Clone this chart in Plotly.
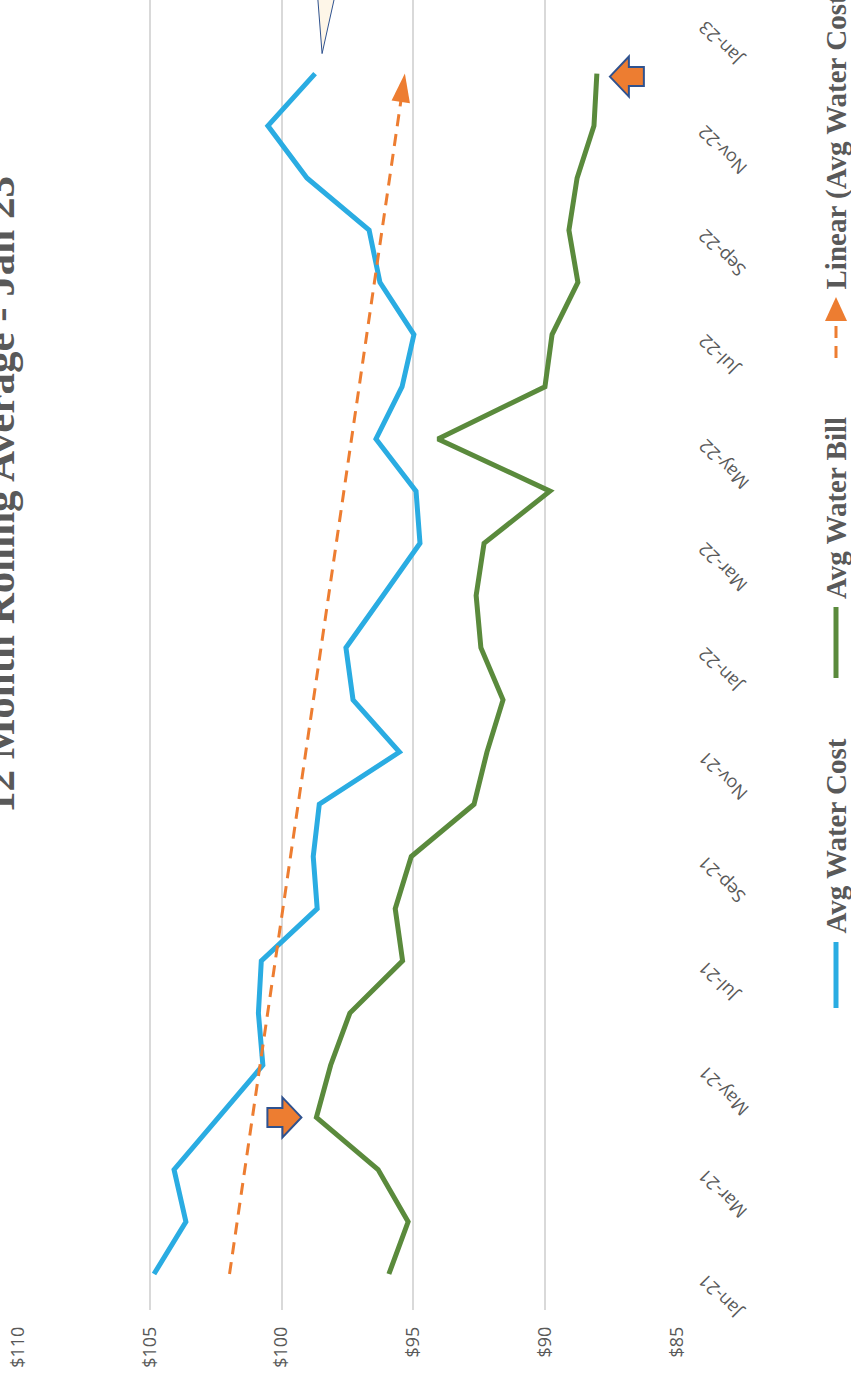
import numpy as np
import plotly.graph_objects as go

MONTHS = [
    "Jan-21", "Feb-21", "Mar-21", "Apr-21", "May-21", "Jun-21", "Jul-21", "Aug-21",
    "Sep-21", "Oct-21", "Nov-21", "Dec-21", "Jan-22", "Feb-22", "Mar-22", "Apr-22",
    "May-22", "Jun-22", "Jul-22", "Aug-22", "Sep-22", "Oct-22", "Nov-22", "Dec-22",
    "Jan-23",
]
AVG_WATER_COST = [
    104.84, 103.63, 104.08, 102.40, 100.71, 100.88, 100.77, 98.65,
    98.80, 98.57, 95.53, 97.29, 97.56, 96.15, 94.75, 94.90,
    96.42, 95.43, 94.98, 96.27, 96.68, 99.04, 100.52, 98.73,
]
AVG_WATER_BILL = [
    95.93, 95.20, 96.34, 98.68, 98.14, 97.41, 95.41, 95.69,
    95.08, 92.70, 92.21, 91.60, 92.44, 92.62, 92.32, 89.82,
    94.07, 90.01, 89.74, 88.76, 89.10, 88.79, 88.15, 88.04,
]
PRICE_TICKS = [110, 105, 100, 95, 90, 85]

BLUE = "#2AACE2"
GREEN = "#5A8A3C"
ORANGE = "#ED7D31"
ARROW_EDGE = "#2F528F"
TEXT = "#595959"
GRID = "#D9D9D9"

W, H = 851, 1381
ML, MR, MT, MB = 18, 174, 0, 71
PLOT_W, PLOT_H = W - ML - MR, H - MT - MB


def px(x):
    return (x - ML) / PLOT_W


def py(y):
    return (H - MB - y) / PLOT_H


idx = list(range(len(AVG_WATER_COST)))
slope, intercept = np.polyfit(idx, AVG_WATER_COST, 1)
trend_y = [idx[0], idx[-1]]
trend_x = [intercept + slope * i for i in trend_y]

fig = go.Figure()
fig.add_trace(go.Scatter(
    x=AVG_WATER_COST, y=idx, mode="lines", name="Avg Water Cost",
    line=dict(color=BLUE, width=5),
))
fig.add_trace(go.Scatter(
    x=AVG_WATER_BILL, y=idx, mode="lines", name="Avg Water Bill",
    line=dict(color=GREEN, width=5),
))
fig.add_trace(go.Scatter(
    x=trend_x, y=trend_y, mode="lines+markers", name="Linear (Avg Water Cost)",
    line=dict(color=ORANGE, width=3, dash="12px,8px"),
    marker=dict(symbol="arrow", size=[0, 30], angleref="previous", color=ORANGE,
                opacity=1, line=dict(width=0)),
))


def block_arrow(x_val, y_val, dx, dy, direction):
    # orange block arrow, tip offset (dx, dy) pixels from a data point
    s = direction
    pts = [(0, 0), (-19 * s, 20), (-19 * s, 9.5), (-34 * s, 9.5),
           (-34 * s, -9.5), (-19 * s, -9.5), (-19 * s, -20)]
    path = "M" + " L".join(f"{dx + a},{dy + b}" for a, b in pts) + " Z"
    return dict(
        type="path", xref="x", yref="y", xsizemode="pixel", ysizemode="pixel",
        xanchor=x_val, yanchor=y_val, path=path,
        fillcolor=ORANGE, line=dict(color=ARROW_EDGE, width=2), layer="above",
    )


shapes = [
    block_arrow(AVG_WATER_BILL[3], idx[3], -15, 0, 1),
    block_arrow(AVG_WATER_BILL[-1], idx[-1], 13, -3, -1),
    # callout pointer, cut off by the top of the chart
    dict(type="path", xref="x", yref="y", xsizemode="pixel", ysizemode="pixel",
         xanchor=AVG_WATER_COST[-1], yanchor=idx[-1],
         path="M7,20 L0,110 L27,110 Z",
         fillcolor="#FEF6E8", line=dict(color=ARROW_EDGE, width=1), layer="above"),
    # legend keys
    dict(type="line", xref="paper", yref="paper", x0=px(836), x1=px(836),
         y0=py(1008), y1=py(942), line=dict(color=BLUE, width=5)),
    dict(type="line", xref="paper", yref="paper", x0=px(836), x1=px(836),
         y0=py(678), y1=py(607), line=dict(color=GREEN, width=5)),
    dict(type="line", xref="paper", yref="paper", x0=px(836), x1=px(836),
         y0=py(358), y1=py(322), line=dict(color=ORANGE, width=3, dash="12px,8px")),
    dict(type="path", xref="paper", yref="paper", xsizemode="pixel", ysizemode="pixel",
         xanchor=px(836), yanchor=py(321), path="M-11,0 L11,0 L0,24 Z",
         fillcolor=ORANGE, line=dict(color=ORANGE, width=0)),
]

annotations = [
    dict(text="12 Month Rolling Average - Jan 23", xref="paper", yref="paper",
         x=px(-1), y=py(495), xanchor="center", yanchor="middle", textangle=-90,
         showarrow=False,
         font=dict(family="Liberation Serif", size=43, color=TEXT, weight=700)),
]
for label, bottom in [("Avg Water Cost", 936), ("Avg Water Bill", 601),
                      ("Linear (Avg Water Cost)", 292)]:
    annotations.append(dict(
        text=label, xref="paper", yref="paper", x=px(836), y=py(bottom),
        xanchor="center", yanchor="bottom", textangle=-90, showarrow=False,
        font=dict(family="Liberation Serif", size=29, color=TEXT, weight=700),
    ))
for i in range(0, len(MONTHS), 2):
    annotations.append(dict(
        text=MONTHS[i], xref="paper", yref="y", x=px(690), y=i, yshift=8,
        xanchor="left", yanchor="top", textangle=-135, showarrow=False,
        font=dict(family="Open Sans", size=18, color=TEXT),
    ))

fig.update_layout(
    width=W, height=H,
    margin=dict(l=ML, r=MR, t=MT, b=MB),
    paper_bgcolor="white", plot_bgcolor="white",
    showlegend=False,
    shapes=shapes,
    annotations=annotations,
    xaxis=dict(
        range=[110, 85], tickmode="array", tickvals=PRICE_TICKS,
        ticktext=[f"${v}" for v in PRICE_TICKS], tickangle=-90,
        showgrid=True, gridcolor=GRID, gridwidth=1.5, zeroline=False,
        showline=False, ticks="", ticklabelstandoff=12, automargin=False,
        tickfont=dict(family="Open Sans", size=18, color=TEXT),
    ),
    yaxis=dict(
        range=[-0.69, 24.41], showgrid=False, zeroline=False, automargin=False,
        showticklabels=False, showline=False, ticks="",
    ),
)

# drop the browser's default 8px page margin so the figure sits at 0,0
fig.write_html("out.html", config={"displayModeBar": False},
               post_script="document.body.style.margin = '0';")
